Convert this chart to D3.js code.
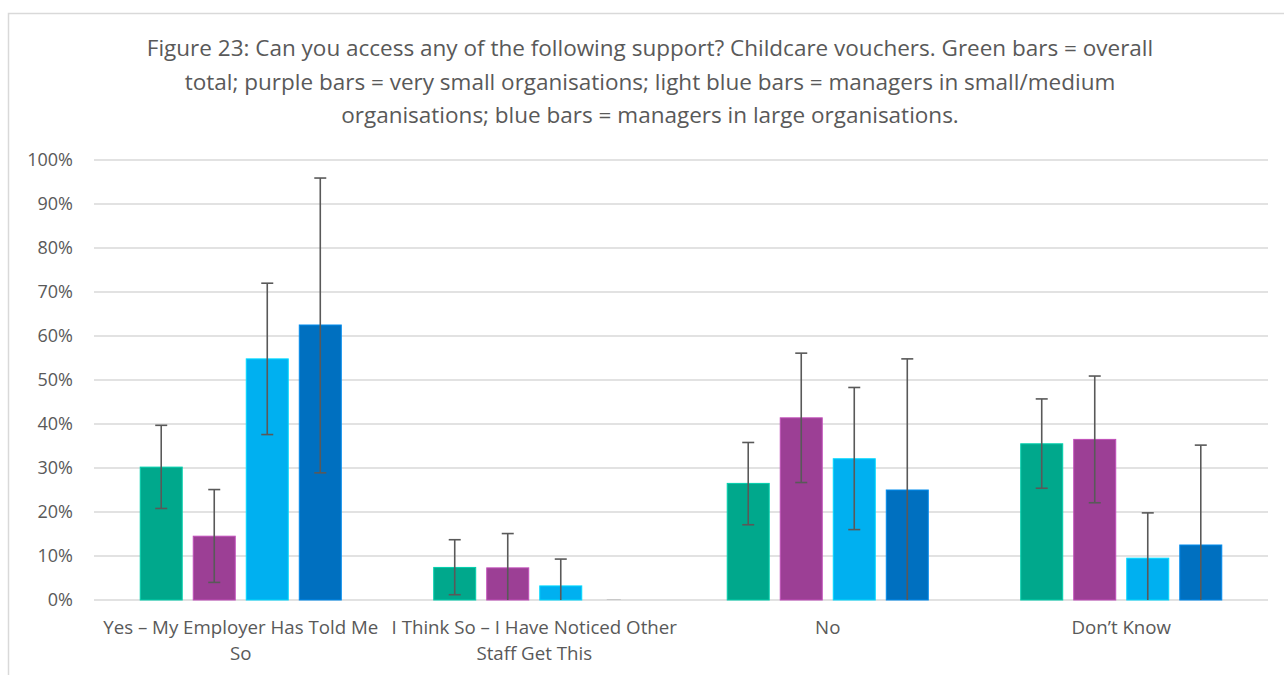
<!DOCTYPE html>
<html><head><meta charset="utf-8">
<script src="https://cdn.jsdelivr.net/npm/d3@7"></script>
<style>body{margin:0;background:#fff;} svg{display:block;}</style>
</head><body>
<svg id="c" width="1284" height="675"></svg>
<script>
const categories = ["Yes – My Employer Has Told Me So", "I Think So – I Have Noticed Other Staff Get This", "No", "Don’t Know"];
const seriesNames = ["Overall total", "Very small organisations", "Managers in small/medium organisations", "Managers in large organisations"];
const seriesColors = ["#00A88C", "#9C3F95", "#00B0F0", "#0070C0"];
const overall = [30.2, 7.4, 26.5, 35.5];
const verySmall = [14.5, 7.3, 41.4, 36.5];
const smallMedium = [54.8, 3.2, 32.1, 9.5];
const large = [62.5, 0, 25.0, 12.5];
const overallErr = [[20.8, 39.7], [1.2, 13.7], [17.1, 35.8], [25.4, 45.7]];
const verySmallErr = [[4.0, 25.1], [0, 15.1], [26.7, 56.1], [22.1, 50.9]];
const smallMediumErr = [[37.6, 72.0], [0, 9.3], [16.0, 48.3], [0, 19.8]];
const largeErr = [[28.9, 95.9], null, [0, 54.8], [0, 35.2]];
const yTicks = [0, 10, 20, 30, 40, 50, 60, 70, 80, 90, 100];
const titleLines = ["Figure 23: Can you access any of the following support? Childcare vouchers. Green bars =  overall",
  "total; purple bars = very small organisations; light blue bars = managers in small/medium",
  "organisations; blue bars = managers in large organisations."];
const xLabelLines = [["Yes – My Employer Has Told Me", "So"], ["I Think So – I Have Noticed Other", "Staff Get This"], ["No"], ["Don’t Know"]];

const values = [overall, verySmall, smallMedium, large];
const errs = [overallErr, verySmallErr, smallMediumErr, largeErr];

(function() {
const svg = d3.select("#c");
const font = "'Open Sans', sans-serif";
svg.append("rect").attr("x", 8.5).attr("y", 13.5).attr("width", 1290).attr("height", 700)
  .attr("fill", "#fff").attr("stroke", "#d9d9d9").attr("stroke-width", 1.5);

const pL = 94, pR = 1268, pT = 160, pB = 600;
const x0 = d3.scaleBand().domain(categories).range([pL, pR]).paddingInner(0.315).paddingOuter(0.1575);
const x1 = d3.scaleBand().domain(d3.range(4)).range([0, x0.bandwidth()]).paddingInner(0.208).paddingOuter(0);
const y = d3.scaleLinear().domain([0, 100]).range([pB, pT]);

svg.append("g").selectAll("line").data(yTicks).join("line")
  .attr("x1", pL).attr("x2", pR).attr("y1", d => y(d)).attr("y2", d => y(d))
  .attr("stroke", "#d9d9d9").attr("stroke-width", 1.3);

const yAxis = d3.axisLeft(y).tickValues(yTicks).tickFormat(d => d + "%").tickSize(0).tickPadding(0);
const ga = svg.append("g").attr("transform", `translate(${pL - 21},0)`).call(yAxis);
ga.select(".domain").remove();
ga.selectAll("text").attr("font-family", font).attr("font-size", 18).attr("fill", "#595959");

const groups = svg.append("g").selectAll("g").data(categories).join("g")
  .attr("transform", d => `translate(${x0(d)},0)`);
groups.each(function(cat, ci) {
  const g = d3.select(this);
  for (let s = 0; s < 4; s++) {
    const v = values[s][ci];
    const bx = x1(s), bw = x1.bandwidth();
    if (v > 0) {
      g.append("rect").attr("x", bx).attr("width", bw).attr("y", y(v)).attr("height", y(0) - y(v))
        .attr("fill", seriesColors[s]).attr("stroke", d3.color(seriesColors[s]).brighter(0.6)).attr("stroke-width", 1);
    } else {
      g.append("line").attr("x1", bx + 14).attr("x2", bx + bw - 14).attr("y1", y(0) - 0.5).attr("y2", y(0) - 0.5)
        .attr("stroke", "#c8c8c8").attr("stroke-width", 1);
    }
    const e = errs[s][ci];
    if (e) {
      const cx = bx + bw / 2;
      g.append("line").attr("x1", cx).attr("x2", cx).attr("y1", y(e[0])).attr("y2", y(e[1]))
        .attr("stroke", "#595959").attr("stroke-width", 1.6);
      [e[0], e[1]].forEach(val => {
        if (val > 0) g.append("line").attr("x1", cx - 6).attr("x2", cx + 6).attr("y1", y(val)).attr("y2", y(val))
          .attr("stroke", "#595959").attr("stroke-width", 1.6);
      });
    }
  }
});

categories.forEach((c, i) => {
  const cx = x0(c) + x0.bandwidth() / 2;
  const t = svg.append("text").attr("text-anchor", "middle").attr("font-family", font)
    .attr("font-size", 18.7).attr("fill", "#595959");
  xLabelLines[i].forEach((ln, j) => t.append("tspan").attr("x", cx).attr("y", 634 + j * 26).text(ln));
});

const tt = svg.append("text").attr("text-anchor", "middle").attr("font-family", font)
  .attr("font-size", 22.5).attr("fill", "#595959");
titleLines.forEach((ln, j) => tt.append("tspan").attr("x", 650).attr("y", 56 + j * 33.5).text(ln));
})();
</script>
</body></html>
